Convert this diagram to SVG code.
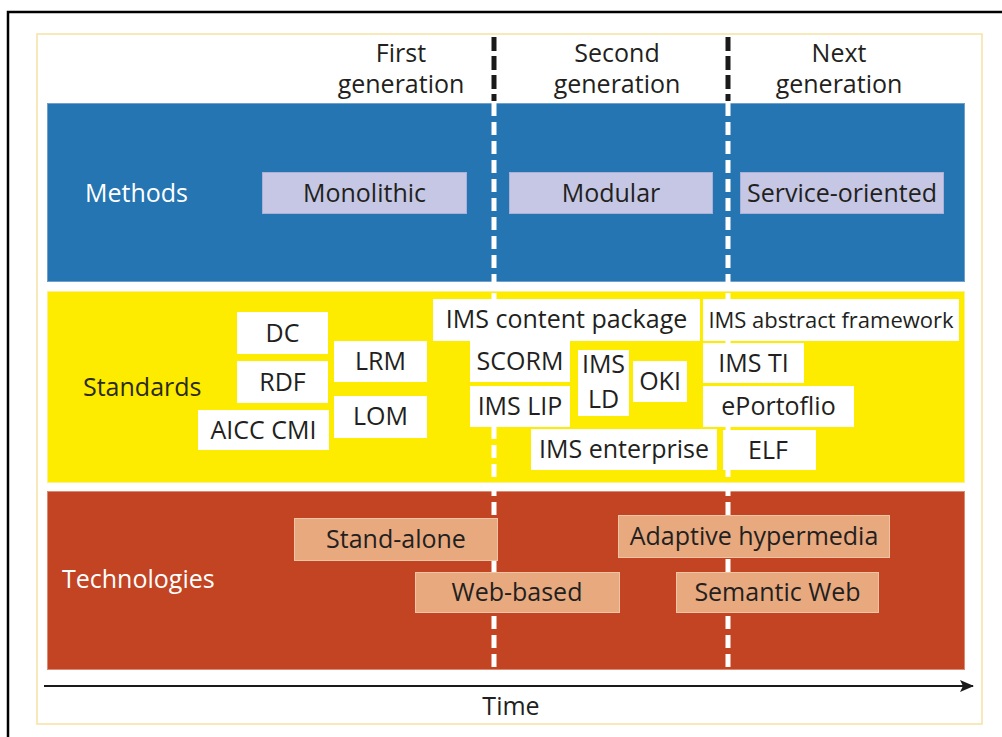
<svg xmlns="http://www.w3.org/2000/svg" width="1002" height="737" viewBox="0 0 1002 737">
  <defs>
    <style>
      text { font-family: "Open Sans", "Noto Sans", "Liberation Sans", sans-serif; font-size: 25px; fill: #231f20; }
      .mid { text-anchor: middle; }
      .band-label-light { fill: #ffffff; }
      .band-label-dark { fill: #2b2a1c; }
      .method { fill: #c5c7e4; stroke: #aab0d8; stroke-width: 1; }
      .std { fill: #ffffff; }
      .tech { fill: #e8a97f; stroke: #f0c4a4; stroke-width: 1; }
      .divider-top { stroke: #1a1a1a; stroke-width: 5; stroke-dasharray: 14 5; fill: none; }
      .divider { stroke: #ffffff; stroke-width: 5; stroke-dasharray: 13 6; fill: none; }
    </style>
    <marker id="arrowhead" viewBox="0 0 14 12" refX="13" refY="6" markerWidth="14" markerHeight="12" markerUnits="userSpaceOnUse" orient="auto">
      <path d="M0,0 L14,6 L0,12 L3,6 Z" fill="#1a1a1a"/>
    </marker>
  </defs>

  <rect x="0" y="0" width="1002" height="737" fill="#ffffff"/>

  <!-- outer frame -->
  <path d="M8,737 L8,12 L1002,12" fill="none" stroke="#000000" stroke-width="2.5"/>
  <rect x="37" y="34" width="945" height="690" fill="none" stroke="#f6e2a4" stroke-width="1.5"/>

  <!-- column headings -->
  <g id="headings">
    <text class="mid" x="401" y="62">First</text>
    <text class="mid" x="401" y="93">generation</text>
    <text class="mid" x="617" y="62">Second</text>
    <text class="mid" x="617" y="93">generation</text>
    <text class="mid" x="839" y="62">Next</text>
    <text class="mid" x="839" y="93">generation</text>
  </g>

  <!-- bands -->
  <g id="bands">
    <rect x="47.5" y="103.5" width="917" height="178" fill="#2475b1" stroke="#6f9fcb" stroke-width="1"/>
    <rect x="47.5" y="291.5" width="917" height="191" fill="#fdeb00" stroke="#fbf08a" stroke-width="1"/>
    <rect x="47.5" y="491.5" width="917" height="178" fill="#c24422" stroke="#dc8a70" stroke-width="1"/>
    <text class="band-label-light" x="85" y="202">Methods</text>
    <text class="band-label-dark" x="83" y="396">Standards</text>
    <text class="band-label-light" x="62" y="588">Technologies</text>
  </g>

  <!-- generation dividers and time axis -->
  <g id="connectors">
    <line class="divider-top" x1="494" y1="37" x2="494" y2="101"/>
    <line class="divider-top" x1="728" y1="37" x2="728" y2="101"/>
    <line class="divider" x1="494" y1="103" x2="494" y2="670"/>
    <line class="divider" x1="728" y1="103" x2="728" y2="670"/>
    <line id="time-axis" x1="44" y1="686" x2="973" y2="686" stroke="#1a1a1a" stroke-width="2" marker-end="url(#arrowhead)"/>
  </g>

  <!-- methods -->
  <g id="monolithic"><rect class="method" x="262.5" y="172.5" width="204" height="41"/><text class="mid" x="364.5" y="202">Monolithic</text></g>
  <g id="modular"><rect class="method" x="509.5" y="172.5" width="203" height="41"/><text class="mid" x="611" y="202">Modular</text></g>
  <g id="service-oriented"><rect class="method" x="740.5" y="172.5" width="203" height="41"/><text class="mid" x="842" y="202">Service-oriented</text></g>

  <!-- standards -->
  <g id="dc"><rect class="std" x="237" y="312" width="91" height="42"/><text class="mid" x="282.5" y="342">DC</text></g>
  <g id="rdf"><rect class="std" x="237" y="361" width="91" height="42"/><text class="mid" x="282.5" y="391">RDF</text></g>
  <g id="aicc-cmi"><rect class="std" x="198" y="410" width="131" height="40"/><text class="mid" x="263.5" y="439">AICC CMI</text></g>
  <g id="lrm"><rect class="std" x="334" y="341" width="93" height="41"/><text class="mid" x="380.5" y="370">LRM</text></g>
  <g id="lom"><rect class="std" x="334" y="396" width="93" height="42"/><text class="mid" x="380.5" y="425">LOM</text></g>
  <g id="ims-content-package"><rect class="std" x="433" y="299" width="267" height="42"/><text class="mid" x="566.5" y="328">IMS content package</text></g>
  <g id="scorm"><rect class="std" x="470" y="341" width="100" height="41"/><text class="mid" x="520" y="370">SCORM</text></g>
  <g id="ims-lip"><rect class="std" x="470" y="386" width="100" height="41"/><text class="mid" x="520" y="415">IMS LIP</text></g>
  <g id="ims-ld"><rect class="std" x="578" y="350" width="51" height="66"/><text class="mid" x="603.5" y="373">IMS</text><text class="mid" x="603.5" y="408">LD</text></g>
  <g id="oki"><rect class="std" x="633" y="361" width="54" height="41"/><text class="mid" x="660" y="390">OKI</text></g>
  <g id="ims-enterprise"><rect class="std" x="531" y="429" width="186" height="41"/><text class="mid" x="624" y="458">IMS enterprise</text></g>
  <g id="ims-abstract-framework"><rect class="std" x="703" y="299" width="256" height="42"/><text class="mid" x="831" y="328" style="font-size:22px">IMS abstract framework</text></g>
  <g id="ims-ti"><rect class="std" x="703" y="343" width="101" height="40"/><text class="mid" x="753.5" y="372">IMS TI</text></g>
  <g id="eportoflio"><rect class="std" x="703" y="386" width="151" height="41"/><text class="mid" x="778.5" y="415">ePortoflio</text></g>
  <g id="elf"><rect class="std" x="723" y="430" width="93" height="40"/><text class="mid" x="768" y="459">ELF</text></g>

  <!-- technologies -->
  <g id="stand-alone"><rect class="tech" x="294.5" y="518.5" width="203" height="42"/><text class="mid" x="396" y="548">Stand-alone</text></g>
  <g id="web-based"><rect class="tech" x="415.5" y="572.5" width="204" height="40"/><text class="mid" x="517" y="601">Web-based</text></g>
  <g id="adaptive-hypermedia"><rect class="tech" x="618.5" y="515.5" width="271" height="42"/><text class="mid" x="754" y="545">Adaptive hypermedia</text></g>
  <g id="semantic-web"><rect class="tech" x="676.5" y="572.5" width="202" height="40"/><text class="mid" x="777.5" y="601">Semantic Web</text></g>

  <text class="mid" x="511" y="715">Time</text>
</svg>
